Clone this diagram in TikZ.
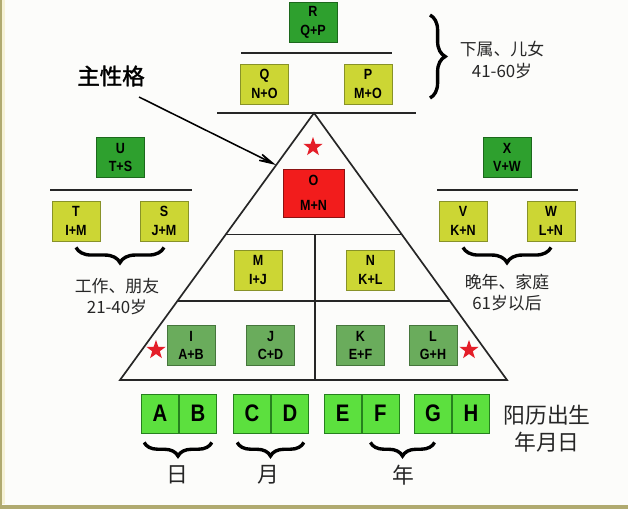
\documentclass[tikz,border=0pt]{standalone}
\usepackage{fontspec}
\setmainfont{Liberation Sans}
\newfontfamily\cjk{Noto Sans CJK SC}
\newfontfamily\cjkb[FakeBold=1.5]{Noto Sans CJK SC}
\newfontfamily\boxfont[FakeStretch=0.85]{Liberation Sans}
\usetikzlibrary{matrix,
	decorations.pathreplacing,
	calc,
	shapes,
	arrows.meta}
\definecolor{paper}{RGB}{252,252,250}
\definecolor{rim}{RGB}{176,170,112}
\definecolor{rimlt}{RGB}{246,242,214}
\definecolor{sumfill}{RGB}{46,160,46}
\definecolor{sumdraw}{RGB}{28,104,28}
\definecolor{midfill}{RGB}{204,214,52}
\definecolor{middraw}{RGB}{136,146,40}
\definecolor{lowfill}{RGB}{106,172,92}
\definecolor{lowdraw}{RGB}{70,118,60}
\definecolor{digfill}{RGB}{92,224,62}
\definecolor{digdraw}{RGB}{38,128,30}
\definecolor{ofill}{RGB}{242,28,28}
\definecolor{odraw}{RGB}{140,18,18}
\definecolor{starred}{RGB}{228,30,40}
\definecolor{txt}{RGB}{38,38,38}
\tikzstyle{bx}=[draw, line width=0.6pt, minimum width=1.2cm, minimum height=1cm,
		inner sep=0, align=center, font=\boxfont\bfseries\fontsize{10.5}{13}\selectfont]
\tikzstyle{sumbx}=[bx, fill=sumfill, draw=sumdraw]
\tikzstyle{midbx}=[bx, fill=midfill, draw=middraw]
\tikzstyle{lowbx}=[bx, fill=lowfill, draw=lowdraw]
\tikzstyle{obx}=[bx, fill=ofill, draw=odraw, minimum width=1.525cm, minimum height=1.2cm]
\tikzstyle{dig}=[draw=digdraw, fill=digfill, line width=0.6pt, minimum width=0.925cm,
		minimum height=0.975cm, inner sep=0, font=\boxfont\bfseries\fontsize{17}{17}\selectfont]
\tikzstyle{pr}=[ampersand replacement=\&, inner sep=0pt, column sep=0pt]
\tikzstyle{rstar}=[star, star points=5, star point ratio=2.5, fill=starred,
		minimum size=0.5cm, inner sep=0]
\tikzstyle{ln}=[line width=1.2pt, black!85]
\tikzstyle{brc}=[decorate, decoration={brace, amplitude=0.38cm}, line width=2.4pt]
\tikzstyle{lbl}=[align=center, text=txt, font=\cjk\fontsize{12}{15}\selectfont]
\tikzstyle{big}=[text=txt, font=\cjk\fontsize{15.5}{19}\selectfont]

\begin{document}
\begin{tikzpicture}[x=0.025cm, y=-0.025cm]
	\useasboundingbox (0,0) rectangle (628,509);
	\fill[paper] (0,0) rectangle (628,509);
	\fill[rimlt] (2,0) rectangle (5,504);
	\fill[rim] (0,0) rectangle (2,509);
	\fill[rim] (0,505) rectangle (628,509);

	% pyramid
	\coordinate (ap) at (314,113);
	\coordinate (bl) at (120,380);
	\coordinate (br) at (507,380);
	\draw[ln, line join=miter] (bl) -- (ap) -- (br) -- cycle;
	\draw[ln] ($(bl)!0.545!(ap)$) -- ($(br)!0.545!(ap)$);
	\draw[ln] ($(bl)!0.297!(ap)$) -- ($(br)!0.297!(ap)$);
	\draw[ln] (315,235) -- (315,380);

	% divider lines
	\draw[ln] (217,113) -- (416,113);
	\draw[ln] (241,53) -- (392,53);
	\draw[ln] (50,190) -- (192,190);
	\draw[ln] (437,190) -- (578,190);

	% boxes
	\node[sumbx] (R) at (313,22.5) {R\\Q+P};
	\node[midbx] (Q) at (264.5,84) {Q\\N+O};
	\node[midbx] (P) at (368,84) {P\\M+O};
	\node[sumbx] (U) at (120.5,157.5) {U\\T+S};
	\node[midbx] (T) at (76,221) {T\\I+M};
	\node[midbx] (S) at (164,221) {S\\J+M};
	\node[sumbx] (X) at (507,157.5) {X\\V+W};
	\node[midbx] (V) at (463,221) {V\\K+N};
	\node[midbx] (W) at (551,221) {W\\L+N};
	\node[obx] (O) at (313.5,193) {O\\[5pt]M+N};
	\node[midbx] (M) at (258,270) {M\\I+J};
	\node[midbx] (N) at (370.5,270) {N\\K+L};
	\node[lowbx] (I) at (191,345.5) {I\\A+B};
	\node[lowbx] (J) at (270.5,345.5) {J\\C+D};
	\node[lowbx] (K) at (360.5,345.5) {K\\E+F};
	\node[lowbx] (L) at (433,345.5) {L\\G+H};

	% stars
	\node[rstar] (st) at (313,147) {};
	\node[rstar] (sl) at (156,350) {};
	\node[rstar] (sr) at (469,350) {};

	% birth digits
	\matrix (ab) [pr] at (179,413.5) {
		\node[dig] (A) {A}; \& \node[dig] (B) {B}; \\
	};
	\matrix (cd) [pr] at (271,413.5) {
		\node[dig] (C) {C}; \& \node[dig] (D) {D}; \\
	};
	\matrix (ef) [pr] at (361.5,413.5) {
		\node[dig] (E) {E}; \& \node[dig] (F) {F}; \\
	};
	\matrix (gh) [pr] at (452,413.5) {
		\node[dig] (G) {G}; \& \node[dig] (H) {H}; \\
	};

	% braces
	\coordinate (kt) at (430,15);
	\coordinate (kb) at (430,98);
	\draw[brc] (kt) -- (kb);
	\draw[brc, decoration={mirror}] ([yshift=-0.15cm]T.south) -- ([yshift=-0.15cm]S.south);
	\draw[brc, decoration={mirror}] ([yshift=-0.15cm]V.south) -- ([yshift=-0.15cm]W.south);
	\draw[brc, decoration={mirror, amplitude=0.34cm}] ([shift={(3,9)}]A.south west) -- ([shift={(-5,9)}]B.south east);
	\draw[brc, decoration={mirror, amplitude=0.34cm}] ([shift={(4,9)}]C.south west) -- ([shift={(-5,9)}]D.south east);
	\draw[brc, decoration={mirror, amplitude=0.34cm}] ([shift={(-10,9)}]F.south) -- ([shift={(1.5,9)}]G.south);

	% labels
	\node[lbl] (kids) at (502,60) {下属、儿女\\41-60岁};
	\node[lbl] (work) at (117,296.5) {工作、朋友\\21-40岁};
	\node[lbl] (late) at (507,292.5) {晚年、家庭\\61岁以后};
	\node[big, align=center, font=\cjk\fontsize{15.5}{19.5}\selectfont] (solar) at (547,428.5) {阳历出生\\年月日};
	\node[big] (day) at (177,475) {日};
	\node[big] (mon) at (268,475) {月};
	\node[big] (yr) at (403,475) {年};
	\node[text=black, font=\cjkb\fontsize{16}{16}\selectfont] (zx) at (111,76) {主性格};

	% arrow to the main box
	\coordinate (zxs) at (139,97);
	\coordinate (tip) at (276,165);
	\draw[line width=1.1pt, -{Stealth[length=0.8cm, width=0.38cm, inset=0.55cm]}] (zxs) -- (tip);
\end{tikzpicture}
\end{document}
